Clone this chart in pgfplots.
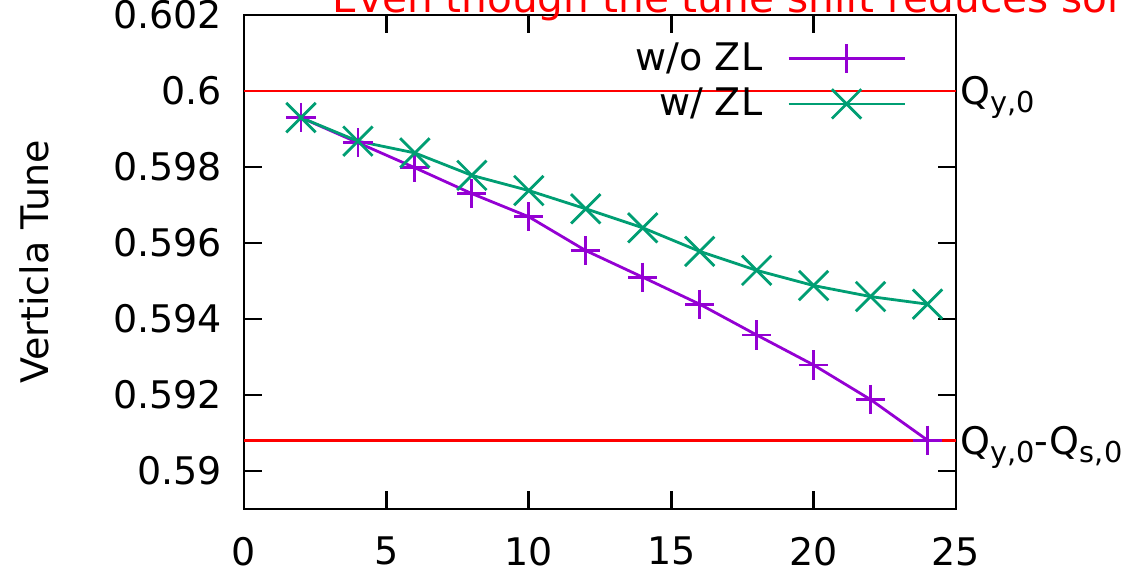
\documentclass[border=0pt]{standalone}
\usepackage{fontspec}
\setmainfont{DejaVu Sans}
\usepackage{pgfplots}
\pgfplotsset{compat=1.18}
\newcommand\bigf{\fontsize{19}{23}\selectfont}
\newcommand\sub[1]{\raisebox{-4pt}{\fontsize{14.4}{17}\selectfont #1}}
\definecolor{gpviolet}{HTML}{9400D3}
\definecolor{gpgreen}{HTML}{009E73}
\begin{document}
\begin{tikzpicture}
\begin{axis}[
  at={(122pt,32.5pt)}, anchor=south west,
  scale only axis, width=356pt, height=247pt,
  xmin=0, xmax=25, ymin=0.589, ymax=0.602,
  xtick={0,5,10,15,20,25},
  ytick={0.59,0.592,0.594,0.596,0.598,0.6,0.602},
  tick align=inside, major tick length=8.8pt,
  xtick pos=both, ytick pos=both,
  xticklabel pos=lower, yticklabel pos=left,
  axis line style={line width=1.4pt},
  every tick/.style={black, line width=1.4pt},
  /pgf/number format/assume math mode=true,
  yticklabel style={/pgf/number format/fixed, /pgf/number format/precision=3, font=\bigf, xshift=-7.5pt},
  xticklabel style={font=\bigf, yshift=-10.5pt},
  ylabel={Verticla Tune},
  ylabel style={font=\bigf, at={(axis description cs:-0.316,0.5)}, anchor=north, inner sep=0pt},
  legend plot pos=right,
  legend cell align=right,
  legend style={draw=none, fill=none, font=\bigf, inner sep=0pt, outer sep=0pt,
    at={(rel axis cs:1,1)}, anchor=north east, xshift=-25pt, yshift=-14.5pt,
    row sep=8pt, column sep=12.5pt,
    nodes={inner sep=0pt, text height=13pt, text depth=1pt}},
  legend image code/.code={\draw[#1, mark repeat=2, mark phase=2] plot coordinates {(0pt,0pt) (29pt,0pt) (58pt,0pt)};},
  clip=false,
]
\addplot[red, line width=1.4pt, forget plot] coordinates {(0,0.6) (25,0.6)};
\addplot[red, line width=1.4pt, forget plot] coordinates {(0,0.5908) (25,0.5908)};
\addplot[gpviolet, line width=1.4pt, mark=+, mark size=7.3pt, mark options={line width=1.4pt}] coordinates {
(2,0.59930)(4,0.59864)(6,0.59798)(8,0.59730)(10,0.59669)(12,0.59580)(14,0.59510)(16,0.59439)(18,0.59358)(20,0.59279)(22,0.59188)(24,0.59081)};
\addlegendentry{w/o ZL}
\addplot[gpgreen, line width=1.4pt, mark=x, mark size=10.4pt, mark options={line width=1.4pt}] coordinates {
(2,0.59930)(4,0.59868)(6,0.59837)(8,0.59778)(10,0.59738)(12,0.59690)(14,0.59640)(16,0.59578)(18,0.59528)(20,0.59488)(22,0.59459)(24,0.59439)};
\addlegendentry{w/ ZL}
\node[anchor=base west, font=\bigf, inner sep=0pt, xshift=2pt, yshift=-6.9pt] at (axis cs:25,0.6) {Q\sub{y,0}};
\node[anchor=base west, font=\bigf, inner sep=0pt, xshift=2pt, yshift=-6.9pt] at (axis cs:25,0.5908) {Q\sub{y,0}-Q\sub{s,0}};
\end{axis}
\node[red, anchor=base west, inner sep=0pt, font=\fontsize{20.3}{24}\selectfont] at (166pt,280.5pt) {Even though the tune shift reduces sor};
\pgfresetboundingbox
\path[use as bounding box] (0,0) rectangle (562pt,287pt);
\end{tikzpicture}
\end{document}
